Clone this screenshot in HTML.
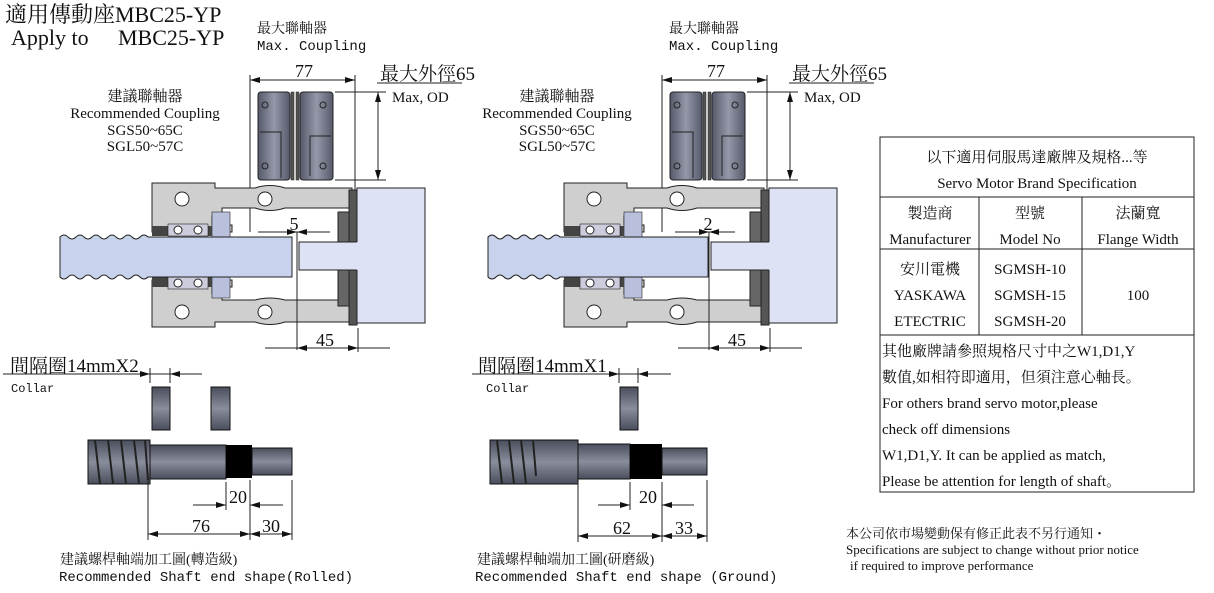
<!DOCTYPE html>
<html><head><meta charset="utf-8"><style>
body{margin:0;background:#fff;width:1214px;height:593px;overflow:hidden}
svg{display:block}
.s{font-family:"Liberation Serif","Noto Serif CJK SC","Noto Sans CJK TC",serif;fill:#111}
.m{font-family:"Liberation Mono","Noto Sans CJK TC",monospace;fill:#111}
.ln{stroke:#222;stroke-width:1;fill:none}
</style></head><body>
<svg width="1214" height="593" viewBox="0 0 1214 593" xmlns="http://www.w3.org/2000/svg">
<defs>
<linearGradient id="cg" x1="0" y1="0" x2="0" y2="1"><stop offset="0" stop-color="#4a4e5c"/><stop offset=".5" stop-color="#8a8e9c"/><stop offset="1" stop-color="#4a4e5c"/></linearGradient>
<linearGradient id="cg2" x1="0" y1="0" x2="1" y2="0"><stop offset="0" stop-color="#55596a"/><stop offset=".5" stop-color="#9498a8"/><stop offset="1" stop-color="#55596a"/></linearGradient>
<marker id="a" viewBox="0 0 10 6" refX="10" refY="3" markerWidth="10" markerHeight="6" orient="auto-start-reverse" markerUnits="userSpaceOnUse"><path d="M0,0L10,3L0,6z" fill="#111"/></marker>
<g id="asm">
 <rect x="258" y="92" width="32" height="88" rx="3" fill="url(#cg2)" stroke="#222"/>
 <rect x="300" y="92" width="33" height="88" rx="3" fill="url(#cg2)" stroke="#222"/>
 <rect x="291" y="92" width="3" height="88" fill="#555" stroke="#222" stroke-width=".5"/>
 <rect x="296" y="92" width="3" height="88" fill="#555" stroke="#222" stroke-width=".5"/>
 <circle cx="265" cy="105" r="3" fill="none" stroke="#222"/><circle cx="323" cy="105" r="3" fill="none" stroke="#222"/>
 <circle cx="265" cy="166" r="3" fill="none" stroke="#222"/><circle cx="323" cy="166" r="3" fill="none" stroke="#222"/>
 <path d="M260,132H281V178M331,136H310V176" class="ln"/>
 <line x1="250" y1="75" x2="250" y2="232" class="ln" stroke-width=".8"/>
 <line x1="355" y1="75" x2="355" y2="190" class="ln" stroke-width=".8"/>
 <line x1="250" y1="80" x2="355" y2="80" class="ln" marker-start="url(#a)" marker-end="url(#a)"/>
 <text x="304" y="77" class="s" font-size="18" text-anchor="middle">77</text>
 <line x1="335" y1="92" x2="386" y2="92" class="ln" stroke-width=".8"/>
 <line x1="335" y1="180" x2="386" y2="180" class="ln" stroke-width=".8"/>
 <line x1="378" y1="92" x2="378" y2="180" class="ln" marker-start="url(#a)" marker-end="url(#a)"/>
 <line x1="377" y1="83" x2="462" y2="83" class="ln"/>
 <text x="380" y="80" class="s" font-size="19">最大外徑65</text>
 <text x="392" y="102" class="s" font-size="15">Max, OD</text>
 <text x="257" y="33" class="s" font-size="14">最大聯軸器</text>
 <text x="257" y="50" class="m" font-size="14">Max. Coupling</text>
 <g class="s" font-size="15" text-anchor="middle"><text x="145" y="101">建議聯軸器</text><text x="145" y="118">Recommended Coupling</text><text x="145" y="135">SGS50~65C</text><text x="145" y="151">SGL50~57C</text></g>
 <path d="M152,183H215V188H255Q270,183 285,188H352V208H285Q270,213 255,208H222V216H212V225H232V232H152Z" fill="#cfcfcf" stroke="#222"/>
 <path d="M152,327H215V322H255Q270,327 285,322H352V300H285Q270,296 255,300H222V294H212V287H232V280H152Z" fill="#cfcfcf" stroke="#222"/>
 <rect x="212" y="212" width="18" height="28" fill="#b8c0dc" stroke="#222" stroke-width=".6"/>
 <rect x="212" y="272" width="18" height="26" fill="#b8c0dc" stroke="#222" stroke-width=".6"/>
 <rect x="152" y="226" width="60" height="10" fill="#444"/>
 <rect x="152" y="277" width="60" height="10" fill="#444"/>
 <rect x="168" y="224" width="40" height="12" fill="#ccd" stroke="#222" stroke-width=".6"/>
 <rect x="168" y="277" width="40" height="12" fill="#ccd" stroke="#222" stroke-width=".6"/>
 <circle cx="178" cy="230" r="4" fill="#fff" stroke="#222"/><circle cx="198" cy="230" r="4" fill="#fff" stroke="#222"/>
 <circle cx="178" cy="283" r="4" fill="#fff" stroke="#222"/><circle cx="198" cy="283" r="4" fill="#fff" stroke="#222"/>
 <circle cx="182" cy="199" r="7" fill="#fff" stroke="#222"/><circle cx="265" cy="199" r="7" fill="#fff" stroke="#222"/>
 <circle cx="182" cy="312" r="7" fill="#fff" stroke="#222"/><circle cx="265" cy="312" r="7" fill="#fff" stroke="#222"/>
 <rect x="338" y="212" width="11" height="30" fill="#666" stroke="#222"/>
 <rect x="338" y="270" width="11" height="36" fill="#666" stroke="#222"/>
 <rect x="349" y="190" width="8" height="135" fill="#555" stroke="#222"/>
 <rect x="357" y="188" width="68" height="135" fill="#dde3f5" stroke="#222"/>
 <rect x="299" y="242" width="59" height="28" fill="#dde3f5" stroke="none"/>
 <path d="M357,242H299V270H357" class="ln"/>
</g>
</defs>
<text x="5" y="22" class="s" font-size="22">適用傳動座MBC25-YP</text>
<text x="11" y="45" class="s" font-size="22">Apply to</text><text x="118" y="45" class="s" font-size="22">MBC25-YP</text>

<use href="#asm"/>
<use href="#asm" transform="translate(412,0)"/>
<path d="M60,237Q64,233 68,237T76,237T84,237T92,237T100,237T108,237T116,237T124,237T132,237T140,237T148,237H292V277H148Q144,281 140,277T132,277T124,277T116,277T108,277T100,277T92,277T84,277T76,277T68,277T60,277Z" fill="#c8d2ec" stroke="#222"/>
<path d="M488,237Q492,233 496,237T504,237T512,237T520,237T528,237T536,237T544,237T552,237T560,237H708V277H560Q556,281 552,277T544,277T536,277T528,277T520,277T512,277T504,277T496,277T488,277Z" fill="#c8d2ec" stroke="#222"/>
<line x1="297" y1="232" x2="297" y2="350" class="ln" stroke-width=".8"/>
<line x1="258" y1="232" x2="297" y2="232" class="ln" marker-end="url(#a)"/>
<line x1="330" y1="232" x2="297" y2="232" class="ln" marker-end="url(#a)"/>
<text x="294" y="230" class="s" font-size="18" text-anchor="middle">5</text>
<line x1="297" y1="348" x2="265" y2="348" class="ln"/><line x1="297" y1="348" x2="358" y2="348" class="ln" marker-start="url(#a)" marker-end="url(#a)"/><line x1="358" y1="348" x2="390" y2="348" class="ln"/>
<line x1="358" y1="328" x2="358" y2="352" class="ln" stroke-width=".8"/>
<text x="325" y="346" class="s" font-size="18" text-anchor="middle">45</text>

<line x1="709" y1="232" x2="709" y2="350" class="ln" stroke-width=".8"/>
<line x1="675" y1="232" x2="709" y2="232" class="ln" marker-end="url(#a)"/>
<line x1="735" y1="232" x2="709" y2="232" class="ln" marker-end="url(#a)"/>
<text x="708" y="230" class="s" font-size="18" text-anchor="middle">2</text>
<line x1="709" y1="348" x2="678" y2="348" class="ln"/><line x1="709" y1="348" x2="770" y2="348" class="ln" marker-start="url(#a)" marker-end="url(#a)"/><line x1="770" y1="348" x2="802" y2="348" class="ln"/>
<line x1="770" y1="328" x2="770" y2="352" class="ln" stroke-width=".8"/>
<text x="737" y="346" class="s" font-size="18" text-anchor="middle">45</text>

<text x="10" y="372" class="s" font-size="19">間隔圈14mmX2</text>
<line x1="3" y1="374" x2="202" y2="374" class="ln"/>
<line x1="150" y1="368" x2="150" y2="383" class="ln"/><line x1="170" y1="368" x2="170" y2="383" class="ln"/>
<line x1="134" y1="374" x2="150" y2="374" class="ln" marker-end="url(#a)"/><line x1="186" y1="374" x2="170" y2="374" class="ln" marker-end="url(#a)"/>
<text x="11" y="392" class="m" font-size="12">Collar</text>
<rect x="152" y="387" width="18" height="43" fill="url(#cg)" stroke="#111"/>
<rect x="211" y="387" width="19" height="43" fill="url(#cg)" stroke="#111"/>
<rect x="88" y="440" width="62" height="44" fill="url(#cg)" stroke="#111"/>
<path d="M95,440L100,484M108,440L113,484M121,440L126,484M134,440L139,484M145,440L148,480" stroke="#222" stroke-width="2"/>
<rect x="150" y="445" width="76" height="34" fill="url(#cg)" stroke="#111"/>
<rect x="226" y="445" width="26" height="33" fill="#000"/>
<rect x="252" y="448" width="40" height="27" fill="url(#cg)" stroke="#111"/>
<g class="ln" stroke-width=".8"><line x1="148" y1="480" x2="148" y2="540"/><line x1="226" y1="482" x2="226" y2="510"/><line x1="250" y1="480" x2="250" y2="540"/><line x1="292" y1="480" x2="292" y2="540"/></g>
<line x1="193" y1="505" x2="226" y2="505" class="ln" marker-end="url(#a)"/><line x1="283" y1="505" x2="250" y2="505" class="ln" marker-end="url(#a)"/>
<text x="238" y="503" class="s" font-size="18" text-anchor="middle">20</text>
<line x1="148" y1="534" x2="250" y2="534" class="ln" marker-start="url(#a)" marker-end="url(#a)"/><line x1="250" y1="534" x2="292" y2="534" class="ln" marker-start="url(#a)" marker-end="url(#a)"/>
<text x="201" y="532" class="s" font-size="18" text-anchor="middle">76</text>
<text x="271" y="532" class="s" font-size="18" text-anchor="middle">30</text>
<text x="60" y="564" class="s" font-size="14">建議螺桿軸端加工圖(轉造級)</text>
<text x="59" y="581" class="m" font-size="14">Recommended Shaft end shape(Rolled)</text>

<text x="478" y="372" class="s" font-size="19">間隔圈14mmX1</text>
<line x1="472" y1="374" x2="671" y2="374" class="ln"/>
<line x1="619" y1="368" x2="619" y2="383" class="ln"/><line x1="638" y1="368" x2="638" y2="383" class="ln"/>
<line x1="603" y1="374" x2="619" y2="374" class="ln" marker-end="url(#a)"/><line x1="654" y1="374" x2="638" y2="374" class="ln" marker-end="url(#a)"/>
<text x="486" y="392" class="m" font-size="12">Collar</text>
<rect x="620" y="387" width="18" height="43" fill="url(#cg)" stroke="#111"/>
<rect x="490" y="440" width="88" height="44" fill="url(#cg)" stroke="#111"/>
<path d="M497,440L502,484M509,440L514,484M521,440L526,484M533,440L536,476" stroke="#222" stroke-width="2"/>
<rect x="578" y="444" width="52" height="35" fill="url(#cg)" stroke="#111"/>
<rect x="630" y="444" width="32" height="35" fill="#000"/>
<rect x="662" y="448" width="45" height="27" fill="url(#cg)" stroke="#111"/>
<g class="ln" stroke-width=".8"><line x1="578" y1="482" x2="578" y2="542"/><line x1="630" y1="482" x2="630" y2="510"/><line x1="662" y1="482" x2="662" y2="542"/><line x1="707" y1="480" x2="707" y2="542"/></g>
<line x1="598" y1="505" x2="630" y2="505" class="ln" marker-end="url(#a)"/><line x1="694" y1="505" x2="662" y2="505" class="ln" marker-end="url(#a)"/>
<text x="648" y="503" class="s" font-size="18" text-anchor="middle">20</text>
<line x1="578" y1="536" x2="662" y2="536" class="ln" marker-start="url(#a)" marker-end="url(#a)"/><line x1="662" y1="536" x2="707" y2="536" class="ln" marker-start="url(#a)" marker-end="url(#a)"/>
<text x="622" y="534" class="s" font-size="18" text-anchor="middle">62</text>
<text x="684" y="534" class="s" font-size="18" text-anchor="middle">33</text>
<text x="477" y="564" class="s" font-size="14">建議螺桿軸端加工圖(研磨級)</text>
<text x="475" y="581" class="m" font-size="14">Recommended Shaft end shape (Ground)</text>

<g class="ln" stroke="#333">
<rect x="880" y="137" width="314" height="355"/>
<line x1="880" y1="197" x2="1194" y2="197"/><line x1="880" y1="249" x2="1194" y2="249"/><line x1="880" y1="335" x2="1194" y2="335"/>
<line x1="979" y1="197" x2="979" y2="335"/><line x1="1082" y1="197" x2="1082" y2="335"/>
</g>
<g class="s" font-size="15" text-anchor="middle" fill="#333">
<text x="1037" y="162">以下適用伺服馬達廠牌及規格...等</text>
<text x="1037" y="188">Servo Motor Brand Specification</text>
<text x="930" y="218">製造商</text><text x="930" y="244">Manufacturer</text>
<text x="1030" y="218">型號</text><text x="1030" y="244">Model No</text>
<text x="1138" y="218">法蘭寬</text><text x="1138" y="244">Flange Width</text>
<text x="930" y="274">安川電機</text><text x="930" y="300">YASKAWA</text><text x="930" y="326">ETECTRIC</text>
<text x="1030" y="274">SGMSH-10</text><text x="1030" y="300">SGMSH-15</text><text x="1030" y="326">SGMSH-20</text>
<text x="1138" y="300">100</text>
</g>
<g class="s" font-size="15" fill="#333">
<text x="882" y="356">其他廠牌請參照規格尺寸中之W1,D1,Y</text>
<text x="882" y="382">數值,如相符即適用，但須注意心軸長。</text>
<text x="882" y="408">For others brand servo motor,please</text>
<text x="882" y="434">check off dimensions</text>
<text x="882" y="460">W1,D1,Y. It can be applied as match,</text>
<text x="882" y="486">Please be attention for length of shaft。</text>
</g>
<g class="s" font-size="13">
<text x="846" y="538">本公司依市場變動保有修正此表不另行通知・</text>
<text x="846" y="554">Specifications are subject to change without prior notice</text>
<text x="850" y="570">if required to improve performance</text>
</g>
</svg>
</body></html>
